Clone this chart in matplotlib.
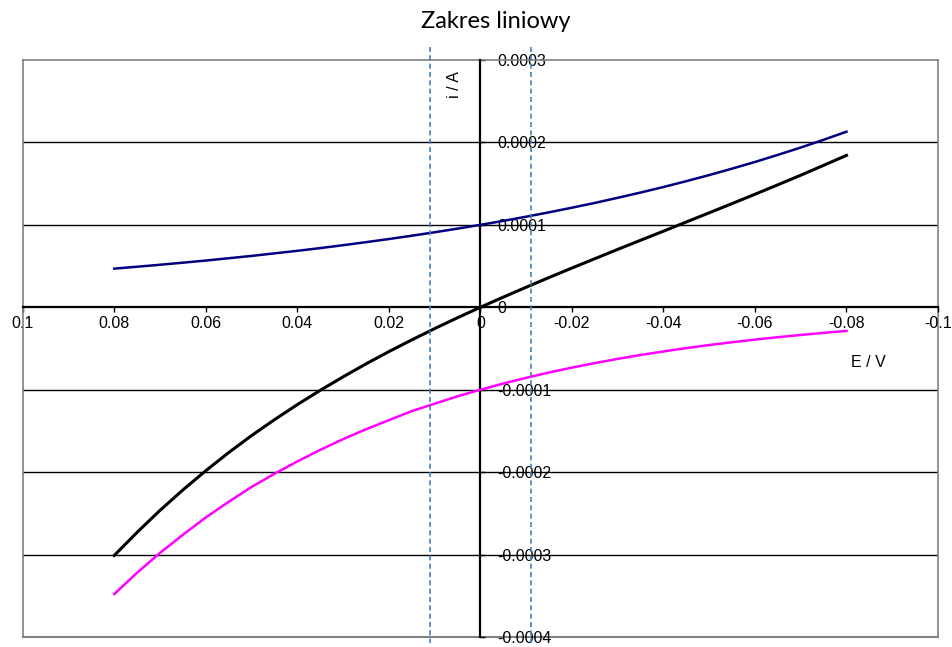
import matplotlib
matplotlib.use('Agg')
import matplotlib.pyplot as plt
import numpy as np

matplotlib.rcParams['font.family'] = 'Liberation Sans'
matplotlib.rcParams['font.size'] = 11.5
matplotlib.rcParams['axes.unicode_minus'] = False

# potencjal E / V
E = [0.08, 0.075, 0.07, 0.065, 0.06, 0.055, 0.05, 0.045, 0.04, 0.035, 0.03,
     0.025, 0.02, 0.015, 0.01, 0.005, 0.0, -0.005, -0.01, -0.015, -0.02,
     -0.025, -0.03, -0.035, -0.04, -0.045, -0.05, -0.055, -0.06, -0.065,
     -0.07, -0.075, -0.08]
# prady w jednostkach 1e-4 A
i_anod = [0.469, 0.492, 0.516, 0.541, 0.567, 0.595, 0.623, 0.654, 0.685, 0.718, 0.753,
          0.790, 0.828, 0.868, 0.910, 0.954, 1.000, 1.048, 1.099, 1.152, 1.208,
          1.266, 1.328, 1.392, 1.459, 1.530, 1.604, 1.682, 1.763, 1.849,
          1.938, 2.032, 2.130]
i_katod = [-3.48, -3.22, -2.98, -2.76, -2.55, -2.36, -2.18, -2.02, -1.87, -1.73, -1.60,
           -1.48, -1.37, -1.26, -1.17, -1.08, -1.00, -0.925, -0.856, -0.791, -0.732,
           -0.677, -0.626, -0.579, -0.536, -0.495, -0.458, -0.424, -0.392, -0.363,
           -0.336, -0.310, -0.287]
i_suma = [-3.011, -2.730, -2.464, -2.216, -1.983, -1.763, -1.557, -1.364, -1.181, -1.008, -0.844,
          -0.687, -0.538, -0.396, -0.259, -0.127, 0.000, 0.123, 0.243, 0.361, 0.476,
          0.589, 0.702, 0.813, 0.923, 1.035, 1.146, 1.258, 1.371, 1.486,
          1.602, 1.722, 1.843]
skala = 1e-4

x_ticks = [0.1, 0.08, 0.06, 0.04, 0.02, 0.0, -0.02, -0.04, -0.06, -0.08, -0.1]
x_labels = ['0.1', '0.08', '0.06', '0.04', '0.02', '0', '-0.02', '-0.04', '-0.06', '-0.08', '-0.1']
y_ticks = [0.0003, 0.0002, 0.0001, 0.0, -0.0001, -0.0002, -0.0003, -0.0004]
y_labels = ['0.0003', '0.0002', '0.0001', '0', '-0.0001', '-0.0002', '-0.0003', '-0.0004']

# granice zakresu liniowego
E_granice = [0.011, -0.011]

fig = plt.figure(figsize=(9.53, 6.47), dpi=100)
ax = fig.add_axes([22.7 / 953, 10 / 647, 915.3 / 953, 577 / 647])
ax.set_xlim(0.1, -0.1)
ax.set_ylim(-0.0004, 0.0003)

# siatka pozioma
for y in y_ticks[1:-1]:
    if y != 0:
        ax.axhline(y, color='black', lw=1.0, zorder=1)

# ramka
ax.spines['left'].set_color('#808080')
ax.spines['top'].set_color('#808080')
ax.spines['left'].set_linewidth(1.2)
ax.spines['top'].set_linewidth(1.2)
ax.axhline(-0.0004, color='#808080', lw=1.5, clip_on=False, zorder=1)
ax.axvline(-0.1, color='#808080', lw=1.2, clip_on=False, zorder=1)

# osie przez zero
ax.spines['bottom'].set_position(('data', 0))
ax.spines['right'].set_position(('data', 0))
ax.spines['bottom'].set_linewidth(1.6)
ax.spines['right'].set_linewidth(1.6)
ax.spines['bottom'].set_zorder(3)
ax.spines['right'].set_zorder(3)

ax.set_xticks(x_ticks)
ax.set_xticklabels(x_labels)
ax.xaxis.set_ticks_position('bottom')
ax.tick_params(axis='x', direction='out', length=3.6, width=1.0, pad=3)

ax.yaxis.set_ticks_position('right')
ax.set_yticks(y_ticks)
ax.set_yticklabels(y_labels)
ax.tick_params(axis='y', direction='out', length=3.6, width=1.0, pad=8.5)

# krzywe
ax.plot(E, np.array(i_anod) * skala, color='#000080', lw=1.8, zorder=4, solid_joinstyle='round')
ax.plot(E, np.array(i_suma) * skala, color='black', lw=2.2, zorder=4, solid_joinstyle='round')
ax.plot(E, np.array(i_katod) * skala, color='#FF00FF', lw=1.8, zorder=4, solid_joinstyle='round')

# linie przerywane
for e in E_granice:
    ax.plot([e, e], [0.000316, -0.000407], color='#4a7ebb', lw=1.2,
             ls=(0, (3, 2)), clip_on=False, zorder=5)

ax.text(0.472, 0.957, 'i / A', rotation=90, ha='center', va='center', transform=ax.transAxes)
ax.text(0.9235, 0.475, 'E / V', ha='center', va='center', transform=ax.transAxes)

fig.text(496 / 953, 1 - 28 / 647, 'Zakres liniowy', ha='center', va='baseline',
         fontsize=17, family='Lato')

plt.savefig('out.png', dpi=100)
